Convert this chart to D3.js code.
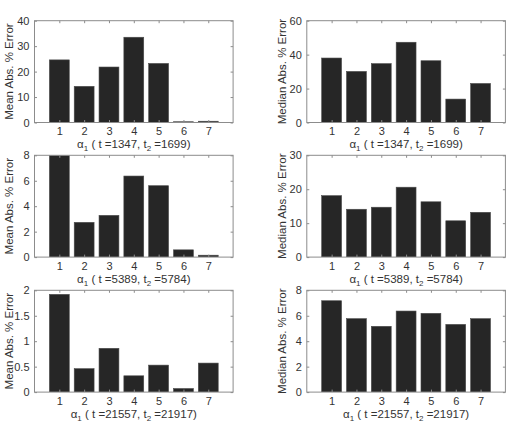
<!DOCTYPE html>
<html>
<head>
<meta charset="utf-8">
<script src="https://cdn.jsdelivr.net/npm/d3@7"></script>
<style>
  body { margin: 0; background: #fff; }
  text { font-family: "Liberation Sans", Arial, sans-serif; fill: #333; }
</style>
</head>
<body>
<div id="chart"></div>
<script>
// categories (alpha_1 index)
const categories = [1, 2, 3, 4, 5, 6, 7];

// values
const meanTop = [24.6, 14.2, 21.8, 33.5, 23.2, 0.3, 0.5];
const medianTop = [38.0, 30.1, 34.7, 47.3, 36.4, 13.8, 23.0];
const meanMid = [8.0, 2.73, 3.28, 6.37, 5.61, 0.57, 0.15];
const medianMid = [18.1, 14.1, 14.7, 20.6, 16.3, 10.7, 13.2];
const meanBot = [1.92, 0.46, 0.86, 0.32, 0.53, 0.07, 0.57];
const medianBot = [7.18, 5.77, 5.17, 6.37, 6.19, 5.32, 5.77];

// y ticks per panel
const ticksMeanTop = [0, 10, 20, 30, 40];
const ticksMedianTop = [0, 20, 40, 60];
const ticksMeanMid = [0, 2, 4, 6, 8];
const ticksMedianMid = [0, 10, 20, 30];
const ticksMeanBot = [0, 0.5, 1, 1.5, 2];
const ticksMedianBot = [0, 2, 4, 6, 8];

// x-label pieces: t1, t2
const runLabels = [['1347', '1699'], ['5389', '5784'], ['21557', '21917']];

const width = 513, height = 423;
const svg = d3.select('#chart').append('svg')
    .attr('width', width)
    .attr('height', height);

const colLeft = [34.5, 306.8];
const colW = 198.6;
const rowTop = [20.7, 155.3, 290.3];
const rowH = 101.8;

const panels = [
    { row: 0, col: 0, values: meanTop, ticks: ticksMeanTop, ylabel: 'Mean Abs. % Error' },
    { row: 0, col: 1, values: medianTop, ticks: ticksMedianTop, ylabel: 'Median Abs. % Error' },
    { row: 1, col: 0, values: meanMid, ticks: ticksMeanMid, ylabel: 'Mean Abs. % Error' },
    { row: 1, col: 1, values: medianMid, ticks: ticksMedianMid, ylabel: 'Median Abs. % Error' },
    { row: 2, col: 0, values: meanBot, ticks: ticksMeanBot, ylabel: 'Mean Abs. % Error' },
    { row: 2, col: 1, values: medianBot, ticks: ticksMedianBot, ylabel: 'Median Abs. % Error' }
];

const axisColor = '#8c8c8c';

panels.forEach((p, i) => {
    const left = colLeft[p.col], top = rowTop[p.row];
    const g = svg.append('g').attr('transform', `translate(${left},${top})`);

    const x = d3.scaleLinear().domain([0, 8]).range([0, colW]);
    const y = d3.scaleLinear().domain([0, d3.max(p.ticks)]).range([rowH, 0]);

    const clipId = 'clip' + i;
    g.append('clipPath').attr('id', clipId)
        .append('rect').attr('width', colW).attr('height', rowH);

    // bars
    g.append('g').attr('clip-path', `url(#${clipId})`)
        .selectAll('rect')
        .data(categories)
        .enter()
        .append('rect')
        .attr('x', (d, k) => x(d - 0.4))
        .attr('width', x(0.8) - x(0))
        .attr('y', (d, k) => y(p.values[k]))
        .attr('height', (d, k) => rowH - y(p.values[k]))
        .attr('fill', '#262626')
        .attr('stroke', '#4a4a4a')
        .attr('stroke-width', 0.6);

    // box
    g.append('rect')
        .attr('width', colW).attr('height', rowH)
        .attr('fill', 'none')
        .attr('stroke', axisColor)
        .attr('stroke-width', 1);

    // inward ticks, all four sides (MATLAB style)
    const tl = 2.5;
    const xb = d3.axisBottom(x).tickValues(categories).tickSize(-tl).tickPadding(5);
    const xt = d3.axisTop(x).tickValues(categories).tickSize(-tl).tickFormat('');
    const yl = d3.axisLeft(y).tickValues(p.ticks).tickSize(-tl).tickPadding(5).tickFormat(d3.format('~g'));
    const yr = d3.axisRight(y).tickValues(p.ticks).tickSize(-tl).tickFormat('');

    const ax = [
        g.append('g').attr('transform', `translate(0,${rowH})`).call(xb),
        g.append('g').call(xt),
        g.append('g').call(yl),
        g.append('g').attr('transform', `translate(${colW},0)`).call(yr)
    ];
    ax.forEach(a => {
        a.select('.domain').remove();
        a.selectAll('line').attr('stroke', axisColor);
        a.selectAll('text')
            .style('font-family', '"Liberation Sans", Arial, sans-serif')
            .style('font-size', '11px')
            .attr('fill', '#333');
    });

    // y label
    g.append('text')
        .attr('transform', `translate(${p.col === 0 ? -21.5 : -20.5},${rowH / 2}) rotate(-90)`)
        .attr('text-anchor', 'middle')
        .style('font-size', '11.5px')
        .text(p.ylabel);

    // x label: α1 ( t =NNNN, t2 =NNNN)
    const lab = runLabels[p.row];
    const xl = g.append('text')
        .attr('x', colW / 2)
        .attr('y', rowH + 26)
        .attr('text-anchor', 'middle')
        .style('font-size', '11.5px');
    xl.append('tspan').text('α');
    xl.append('tspan').attr('dy', 2.5).style('font-size', '8px').text('1');
    xl.append('tspan').attr('dy', -2.5).text(` ( t =${lab[0]}, t`);
    xl.append('tspan').attr('dy', 2.5).style('font-size', '8px').text('2');
    xl.append('tspan').attr('dy', -2.5).text(` =${lab[1]})`);
});
</script>
</body>
</html>
